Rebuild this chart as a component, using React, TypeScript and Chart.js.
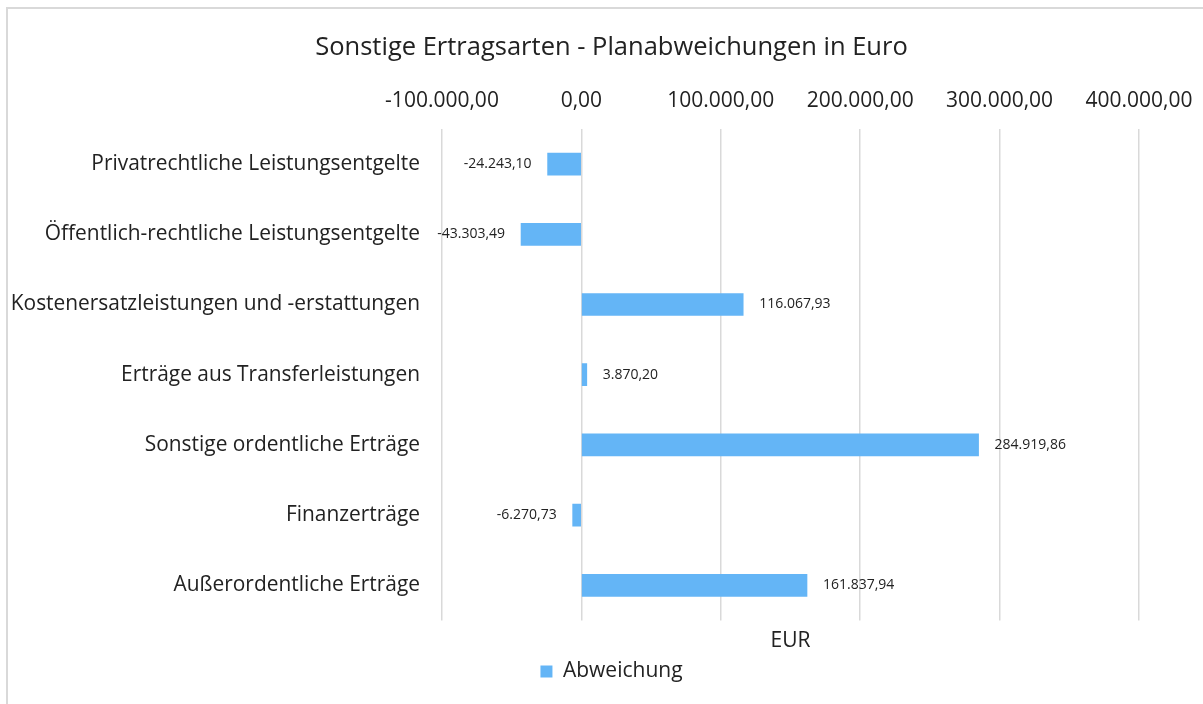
import React, { useEffect, useRef } from "react";
import { Chart, registerables } from "chart.js";

Chart.register(...registerables);

const chartTitle = "Sonstige Ertragsarten - Planabweichungen in Euro";
const seriesName = "Abweichung";
const axisTitle = "EUR";

const categories = [
  "Privatrechtliche Leistungsentgelte",
  "Öffentlich-rechtliche Leistungsentgelte",
  "Kostenersatzleistungen und -erstattungen",
  "Erträge aus Transferleistungen",
  "Sonstige ordentliche Erträge",
  "Finanzerträge",
  "Außerordentliche Erträge",
];

const values = [-24243.1, -43303.49, 116067.93, 3870.2, 284919.86, -6270.73, 161837.94];

const axisMin = -100000;
const axisMax = 400000;
const axisStep = 100000;

const FONT = "'Open Sans', 'Noto Sans', sans-serif";
const TEXT = "#222222";
const BAR = "#64B5F6";
const GRID = "#d9d9d9";

function fmt(v: number): string {
  const neg = v < 0;
  const abs = Math.abs(v);
  const fixed = abs.toFixed(2);
  const [intPart, dec] = fixed.split(".");
  const withDots = intPart.replace(/\B(?=(\d{3})+(?!\d))/g, ".");
  return (neg ? "-" : "") + withDots + "," + dec;
}

const dataLabelPlugin = {
  id: "dataLabels",
  afterDatasetsDraw(chart: any) {
    const ctx = chart.ctx;
    const meta = chart.getDatasetMeta(0);
    const data = chart.data.datasets[0].data as number[];
    ctx.save();
    ctx.font = `14px ${FONT}`;
    ctx.fillStyle = TEXT;
    ctx.textBaseline = "middle";
    meta.data.forEach((bar: any, i: number) => {
      const v = data[i];
      const label = fmt(v);
      if (v < 0) {
        ctx.textAlign = "right";
        ctx.fillText(label, bar.x - 16, bar.y);
      } else {
        ctx.textAlign = "left";
        ctx.fillText(label, bar.x + 16, bar.y);
      }
    });
    ctx.restore();
  },
};

export default function App() {
  const canvasRef = useRef<HTMLCanvasElement | null>(null);

  useEffect(() => {
    if (!canvasRef.current) return;
    const chart = new Chart(canvasRef.current, {
      type: "bar",
      data: {
        labels: categories,
        datasets: [
          {
            label: seriesName,
            data: values,
            backgroundColor: BAR,
            borderWidth: 0,
            barThickness: 22,
            xAxisID: "x",
            yAxisID: "y",
          },
        ],
      },
      options: {
        indexAxis: "y",
        animation: false,
        responsive: false,
        maintainAspectRatio: false,
        layout: { padding: { left: 0, right: -20, top: 0, bottom: 12 } },
        plugins: {
          title: {
            display: true,
            text: chartTitle,
            color: TEXT,
            font: { family: FONT, size: 25.5, weight: "normal" },
            padding: { top: 32.5, bottom: 0 },
          },
          legend: {
            display: true,
            position: "bottom",
            labels: {
              color: TEXT,
              font: { family: FONT, size: 21 },
              boxWidth: 12,
              boxHeight: 12,
              padding: 7,
            },
          },
          tooltip: { enabled: false },
        },
        scales: {
          x: {
            type: "linear",
            position: "top",
            min: axisMin,
            max: axisMax,
            ticks: {
              stepSize: axisStep,
              color: TEXT,
              font: { family: FONT, size: 21, lineHeight: "42px" },
              padding: 7,
              maxRotation: 0,
              callback: (v: any) => fmt(Number(v)),
            },
            grid: { color: GRID, lineWidth: 1.5, drawTicks: false },
            border: { display: false },
            afterFit: (scale: any) => {
              scale.height = 65.9;
            },
          },
          x2: {
            type: "linear",
            position: "bottom",
            min: axisMin,
            max: axisMax,
            ticks: { display: false },
            grid: { display: false, drawTicks: false },
            border: { display: false },
            title: {
              display: true,
              text: axisTitle,
              color: TEXT,
              font: { family: FONT, size: 21 },
              padding: { top: 8.4, bottom: 0 },
            },
          },
          y: {
            type: "category",
            position: "left",
            ticks: {
              color: TEXT,
              font: { family: FONT, size: 20.9 },
              padding: 22,
            },
            grid: { display: false, drawTicks: false },
            border: { display: false },
            afterFit: (scale: any) => {
              scale.width = 442;
            },
          },
          yRight: {
            type: "linear",
            position: "right",
            min: 0,
            max: 1,
            ticks: { display: false },
            grid: { display: false, drawTicks: false },
            border: { display: false },
            afterFit: (scale: any) => {
              scale.width = 84;
            },
          },
        },
      },
      plugins: [dataLabelPlugin],
    });
    return () => chart.destroy();
  }, []);

  return (
    <div style={{ position: "absolute", left: 0, top: 0, width: 1203, height: 704, background: "#ffffff" }}>
      <div
        style={{
          position: "absolute",
          left: 6,
          top: 7,
          width: 1203 - 6,
          height: 704 - 7,
          borderLeft: "2px solid #d9d9d9",
          borderTop: "2px solid #d9d9d9",
          boxSizing: "border-box",
        }}
      />
      <canvas ref={canvasRef} width={1203} height={704} style={{ position: "absolute", left: 0, top: 0 }} />
    </div>
  );
}
